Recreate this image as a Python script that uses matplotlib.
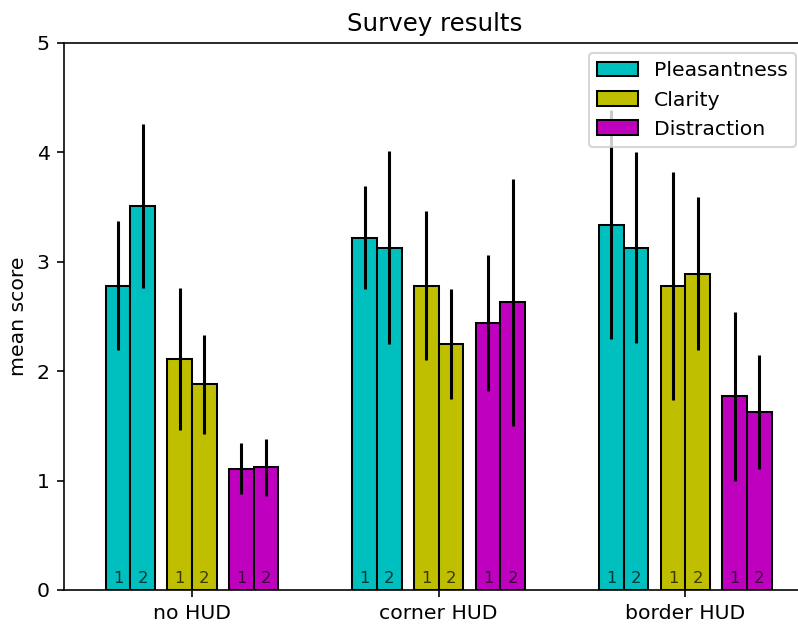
import matplotlib
matplotlib.use("Agg")
import matplotlib.pyplot as plt
import numpy as np

# survey data: two versions (1, 2) per HUD layout
conditions = ["no HUD", "corner HUD", "border HUD"]
metrics = ["Pleasantness", "Clarity", "Distraction"]

pleasantness_mean = [[2.78, 3.51], [3.22, 3.13], [3.34, 3.13]]
pleasantness_err = [[0.59, 0.75], [0.47, 0.88], [1.05, 0.87]]
clarity_mean = [[2.11, 1.88], [2.78, 2.25], [2.78, 2.89]]
clarity_err = [[0.65, 0.45], [0.68, 0.50], [1.04, 0.70]]
distraction_mean = [[1.11, 1.12], [2.44, 2.63], [1.77, 1.63]]
distraction_err = [[0.23, 0.26], [0.62, 1.13], [0.77, 0.52]]
version_labels = ["1", "2"]

means = [pleasantness_mean, clarity_mean, distraction_mean]
errs = [pleasantness_err, clarity_err, distraction_err]
colors = ["c", "y", "m"]

dpi = 147
fig = plt.figure(figsize=(799 / dpi, 637 / dpi), dpi=dpi)
ax = fig.add_axes([0.080, 0.0738, 0.929, 0.8587])

width = 0.1
x = np.arange(len(conditions))
for m, (name, mean, err, col) in enumerate(zip(metrics, means, errs, colors)):
    mean = np.array(mean)
    err = np.array(err)
    offset = (m - 1) * 0.25
    for v in range(2):
        pos = x + offset + (v - 0.5) * width
        ax.bar(pos, mean[:, v], width, yerr=err[:, v], color=col,
               edgecolor="black", linewidth=1,
               error_kw=dict(ecolor="black", elinewidth=1.5, capsize=0),
               label=name if v == 0 else None)
        for p in pos:
            ax.text(p, 0.04, version_labels[v], ha="center", va="bottom",
                    fontsize=8, color="black", alpha=0.7)

ax.set_xticks(x)
ax.set_xticklabels(conditions)
ax.set_xlim(-0.519, 2.49)
ax.set_ylim(0, 5)
ax.set_ylabel("mean score")
ax.set_title("Survey results")
ax.legend(loc="upper right")

fig.savefig("out.png", dpi=dpi)
